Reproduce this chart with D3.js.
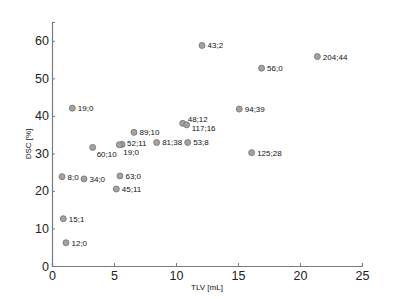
<!DOCTYPE html>
<html><head><meta charset="utf-8">
<script src="https://cdn.jsdelivr.net/npm/d3@7"></script>
<style>body{margin:0;background:#fff}svg{display:block}</style>
</head><body>
<script>
const tlv = [1.64, 12.1, 21.4, 16.9, 15.1, 16.1, 10.54, 10.86, 6.61, 8.44, 10.94, 5.65, 5.43, 3.28, 0.81, 2.58, 5.48, 5.19, 0.91, 1.13];
const dsc = [42.05, 58.75, 55.8, 52.7, 41.8, 30.2, 38.0, 37.6, 35.6, 32.9, 32.9, 32.4, 32.3, 31.6, 23.8, 23.2, 24.0, 20.5, 12.6, 6.2];
const pointLabels = ["19;0","43;2","204;44","56;0","94;39","125;28","48;12","117;16","89;10","81;38","53;8","52;11","19;0","60;10","8;0","34;0","63;0","45;11","15;1","12;0"];
const labelPlacement = ["r","r","r","r","r","r","ur","dr","r","r","r","ur2","b","b","r","r","r","r","r","r"];
const xTicks = [0,5,10,15,20,25];
const yTicks = [0,10,20,30,40,50,60];

const W=400,H=299;
const svg=d3.select("body").append("svg").attr("width",W).attr("height",H);
const x=d3.scaleLinear().domain([0,25]).range([52,362]);
const y=d3.scaleLinear().domain([0,65]).range([266,22]);
const axisColor="#7a7a7a";

const gx=svg.append("g").attr("transform","translate(0,266)")
  .call(d3.axisBottom(x).tickValues(xTicks).tickSize(-3).tickPadding(6).tickFormat(d3.format("d")));
const gy=svg.append("g").attr("transform","translate(52,0)")
  .call(d3.axisLeft(y).tickValues(yTicks).tickSize(-3).tickPadding(4).tickFormat(d3.format("d")));
[gx,gy].forEach(g=>{
  g.select(".domain").attr("stroke",axisColor).attr("stroke-width",1.2);
  g.selectAll(".tick line").attr("stroke",axisColor);
  g.selectAll(".tick text").attr("fill","#222").style("font-family","Liberation Sans, Arial, sans-serif").style("font-size","12.5px");
});
gx.selectAll(".tick text").attr("dy","0.75em").attr("y",5);
gy.selectAll(".tick text").attr("x",-3);

svg.append("text").attr("x",207).attr("y",290).attr("text-anchor","middle")
  .style("font-family","Liberation Sans, Arial, sans-serif").style("font-size","8px").attr("fill","#111").text("TLV [mL]");
svg.append("text").attr("transform","translate(31,144) rotate(-90)").attr("text-anchor","middle")
  .style("font-family","Liberation Sans, Arial, sans-serif").style("font-size","8px").attr("fill","#111").text("DSC [%]");

const data=tlv.map((v,i)=>({x:v,y:dsc[i],label:pointLabels[i],p:labelPlacement[i]}));
svg.append("g").selectAll("circle").data(data).join("circle")
  .attr("cx",d=>x(d.x)).attr("cy",d=>y(d.y)).attr("r",3)
  .attr("fill","#a3a3a3").attr("stroke","#6e6e6e").attr("stroke-width",0.8);

const off={r:[5.5,3],ur:[5,-1],ur2:[5,2],dr:[5,6],b:[4,10]};
svg.append("g").selectAll("text").data(data).join("text")
  .attr("x",d=>x(d.x)+off[d.p][0]).attr("y",d=>y(d.y)+off[d.p][1])
  .style("font-family","Liberation Sans, Arial, sans-serif").style("font-size","8px").attr("fill","#111")
  .text(d=>d.label);
</script>
</body></html>
